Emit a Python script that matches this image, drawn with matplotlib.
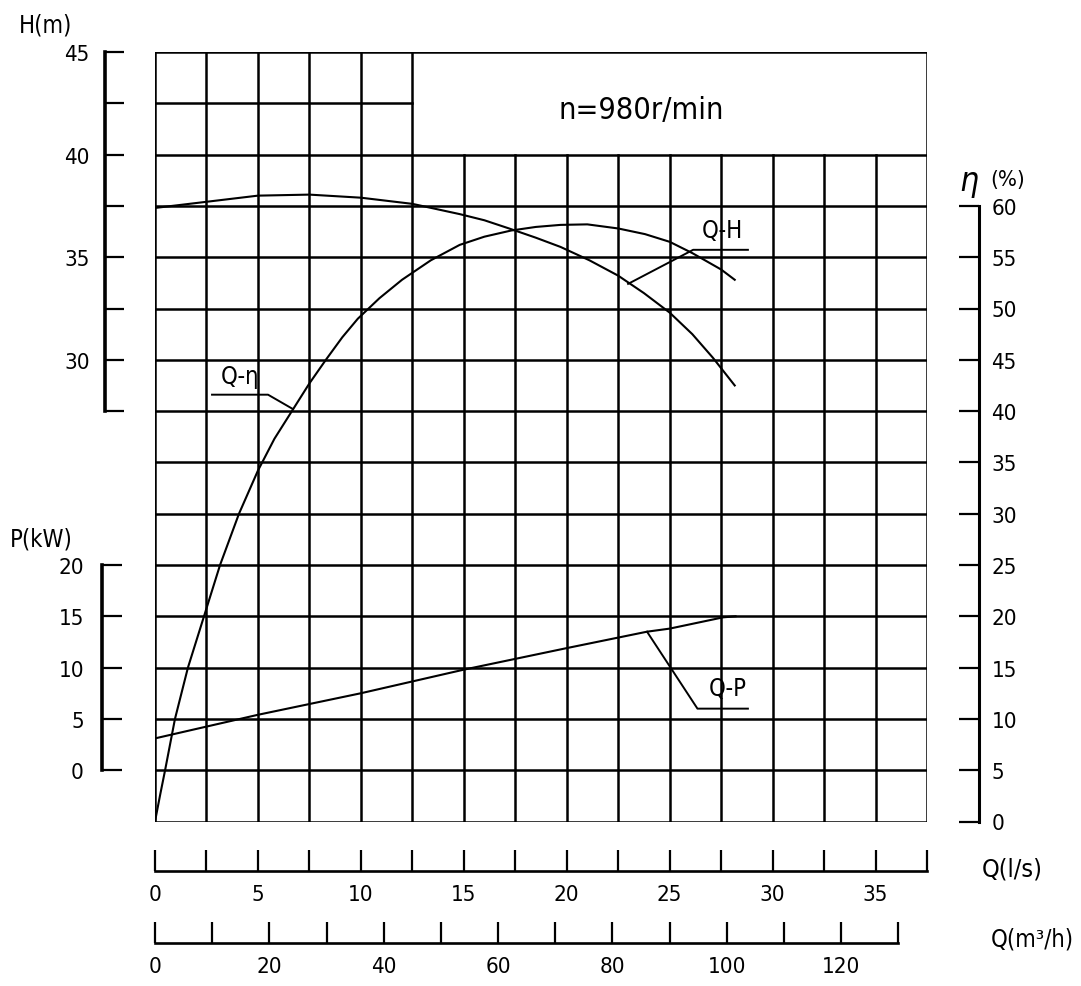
import matplotlib
matplotlib.use("Agg")
import matplotlib.pyplot as plt
from matplotlib.ticker import FixedLocator, FuncFormatter
import numpy as np

# ---------------- data ----------------
q_h = [0, 2.5, 5, 7.5, 10, 12.5, 14.8, 16.0, 17.2, 18.5, 19.7, 21.1, 22.5,
       23.75, 25, 26.1, 27.1, 28.16]
h_m = [37.4, 37.7, 38.0, 38.05, 37.9, 37.6, 37.1, 36.8, 36.4, 35.95, 35.5, 34.85, 34.1,
       33.25, 32.3, 31.25, 30.1, 28.75]

q_eta = [0, 0.25, 0.49, 0.97, 1.6, 2.38, 3.16, 4.08, 5.0, 5.8, 6.65, 7.5, 8.3, 9.1, 9.85,
         10.9, 12.0, 13.4, 14.8, 16.0, 17.3, 18.5, 19.7, 21.0, 22.5, 23.8, 25.0, 26.1,
         27.5, 28.16]
eta_pct = [0, 2.6, 5, 10, 15, 20, 25, 30, 34.2, 37.3, 40, 42.7, 45, 47.2, 49,
           51.0, 52.8, 54.7, 56.2, 57.0, 57.6, 57.95, 58.15, 58.2, 57.8, 57.25, 56.5, 55.4,
           53.8, 52.8]

q_p = [0, 5, 10, 15, 20, 23.9, 25, 27.6, 28.2]
p_kw = [3.1, 5.4, 7.5, 9.8, 11.9, 13.5, 13.8, 14.9, 15.0]

h_ticks = [27.5, 30, 32.5, 35, 37.5, 40, 42.5, 45]
p_ticks = [0, 5, 10, 15, 20]
eta_ticks = list(range(0, 65, 5))
qls_ticks = [i * 2.5 for i in range(16)]
qm3_ticks = list(range(0, 140, 10))

speed_text = "n=980r/min"

# ---------------- styling ----------------
plt.rcParams['font.family'] = ['DejaVu Sans']
plt.rcParams['font.stretch'] = 'condensed'
PX = 72 / 100.0  # points per pixel at dpi 100
GRID_LW = 1.8
CURVE_LW = 1.5
TICK_FS = 16

W, H = 1081, 987
fig = plt.figure(figsize=(W / 100, H / 100), dpi=100)
fig.patch.set_facecolor('white')

x0, x1 = 155, 927
y_top, y_bot = 53, 822.5
ax = fig.add_axes([x0 / W, 1 - y_bot / H, (x1 - x0) / W, (y_bot - y_top) / H])
ax.set_xlim(0, 37.5)
ax.set_ylim(7.5, 45)
ax.patch.set_alpha(0)

# grid (with the cleared box at top right)
for q in qls_ticks:
    top = 45 if q <= 12.5 or q >= 37.5 else 40
    ax.plot([q, q], [7.5, top], color='black', lw=GRID_LW, solid_capstyle='projecting', zorder=1)
for hv in np.arange(7.5, 45.01, 2.5):
    right = 12.5 if abs(hv - 42.5) < 1e-6 else 37.5
    ax.plot([0, right], [hv, hv], color='black', lw=GRID_LW, solid_capstyle='projecting', zorder=1)

# H axis (left, top part)
for s in ['top', 'right']:
    ax.spines[s].set_visible(False)
ax.spines['left'].set_position(('outward', 50 * PX))
ax.spines['left'].set_bounds(27.5, 45)
ax.spines['left'].set_linewidth(2.6)
ax.yaxis.set_major_locator(FixedLocator(h_ticks))
ax.yaxis.set_major_formatter(FuncFormatter(lambda v, p: f"{v:.0f}" if abs(v % 5) < 1e-6 else ""))
ax.tick_params(axis='y', direction='in', length=19 * PX, width=1.6, pad=11, labelsize=TICK_FS)

# Q (l/s) axis at bottom
ax.spines['bottom'].set_position(('outward', 49 * PX))
ax.spines['bottom'].set_bounds(0, 37.5)
ax.spines['bottom'].set_linewidth(1.9)
ax.xaxis.set_major_locator(FixedLocator(qls_ticks))
ax.xaxis.set_major_formatter(FuncFormatter(lambda v, p: f"{v:.0f}" if abs(v % 5) < 1e-6 and v < 37 else ""))
ax.tick_params(axis='x', direction='in', length=21 * PX, width=1.6, pad=10, labelsize=TICK_FS)

# eta axis (right)
axe = ax.twinx()
axe.set_ylim(0, 75)
for s in ['left', 'top', 'bottom']:
    axe.spines[s].set_visible(False)
axe.spines['right'].set_position(('outward', 52 * PX))
axe.spines['right'].set_bounds(0, 60)
axe.spines['right'].set_linewidth(2.2)
axe.yaxis.set_major_locator(FixedLocator(eta_ticks))
axe.tick_params(axis='y', direction='in', length=20 * PX, width=1.6, pad=9, labelsize=TICK_FS)

# P axis (left, lower part)
axp = ax.twinx()
axp.set_ylim(-5, 70)
axp.yaxis.tick_left()
for s in ['right', 'top', 'bottom']:
    axp.spines[s].set_visible(False)
axp.spines['left'].set_visible(True)
axp.spines['left'].set_position(('outward', 53 * PX))
axp.spines['left'].set_bounds(0, 20)
axp.spines['left'].set_linewidth(2.6)
axp.yaxis.set_major_locator(FixedLocator(p_ticks))
axp.tick_params(axis='y', direction='in', length=20 * PX, width=1.6, pad=13, labelsize=TICK_FS)

# Q (m3/h) axis
axm = ax.twiny()
axm.set_xlim(0, 37.5 * 3.6)
axm.xaxis.tick_bottom()
for s in ['left', 'right', 'top']:
    axm.spines[s].set_visible(False)
axm.spines['bottom'].set_visible(True)
axm.spines['bottom'].set_position(('outward', 121 * PX))
axm.spines['bottom'].set_bounds(0, 130)
axm.spines['bottom'].set_linewidth(1.9)
axm.xaxis.set_major_locator(FixedLocator(qm3_ticks))
axm.xaxis.set_major_formatter(FuncFormatter(lambda v, p: f"{v:.0f}" if v % 20 == 0 else ""))
axm.tick_params(axis='x', direction='in', length=21 * PX, width=1.6, pad=10, labelsize=TICK_FS)

# curves
ax.plot(q_h, h_m, color='black', lw=CURVE_LW, zorder=3)
axe.plot(q_eta, eta_pct, color='black', lw=CURVE_LW, zorder=3)
axp.plot(q_p, p_kw, color='black', lw=CURVE_LW, zorder=3)

# curve labels with leaders
ax.text(27.55, 35.75, "Q-H", ha='center', va='bottom', fontsize=17)
ax.plot([28.8, 26.14, 22.98], [35.36, 35.36, 33.7], color='black', lw=1.4)

axe.text(4.13, 42.3, "Q-η", ha='center', va='bottom', fontsize=17)
axe.plot([2.77, 5.49, 6.7], [41.6, 41.6, 40.2], color='black', lw=1.4)

axp.text(27.8, 6.8, "Q-P", ha='center', va='bottom', fontsize=17)
axp.plot([28.8, 26.35, 23.9], [6.0, 6.0, 13.5], color='black', lw=1.4)

ax.text(23.6, 42.2, speed_text, ha='center', va='center', fontsize=22)

# axis titles
def ftext(xp, yp, s, **kw):
    fig.text(xp / W, 1 - yp / H, s, ha='center', va='center', **kw)

ftext(46, 25, "H(m)", fontsize=17)
ftext(41, 539, "P(kW)", fontsize=17)
ftext(969, 182, "η", fontsize=24, style='italic')
ftext(1008, 180, "(%)", fontsize=16)
ftext(1012, 870, "Q(l/s)", fontsize=18)
ftext(1032, 940, "Q(m³/h)", fontsize=17)

fig.savefig("out.png", dpi=100, facecolor='white')
